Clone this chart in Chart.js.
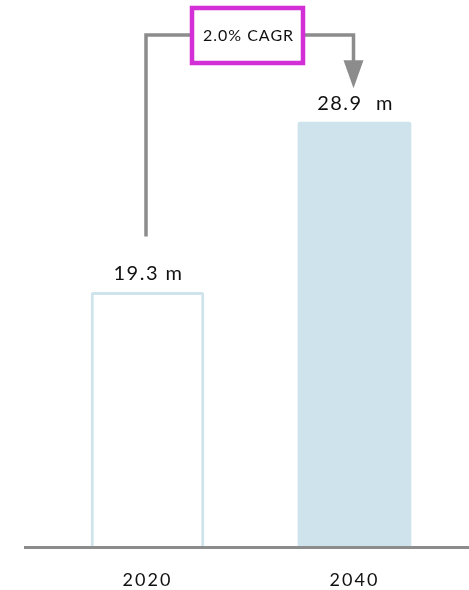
<!DOCTYPE html>
<html>
<head>
<meta charset="utf-8">
<script src="https://cdn.jsdelivr.net/npm/chart.js@4.4.1/dist/chart.umd.min.js"></script>
<style>
  html, body { margin: 0; padding: 0; background: #fff; }
  #wrap { width: 469px; height: 590px; }
</style>
</head>
<body>
<div id="wrap"><canvas id="chart" width="469" height="590"></canvas></div>
<script>
// years and values (millions)
const years = ['2020', '2040'];
const values = [19.3, 28.9];
const unitSuffix = [' m', '  m'];

const barFill = ['#ffffff', '#cfe3ec'];
const barEdge = ['#cfe3ec', '#cfe3ec'];
const edgeWidth = [3, 0];

// compound annual growth between the two years
const span = Number(years[1]) - Number(years[0]);
const cagr = (Math.pow(values[1] / values[0], 1 / span) - 1) * 100;

const FONT = 'Lato, "Open Sans", sans-serif';

// wider tracking for the year labels
const tracking = {
  id: 'tracking',
  beforeDraw(chart) { chart.ctx.letterSpacing = '2px'; },
  afterDraw(chart) { chart.ctx.letterSpacing = '0px'; }
};

// value labels, baseline line and the CAGR arrow
const annotations = {
  id: 'annotations',
  afterDatasetsDraw(chart) {
    const { ctx, chartArea, scales } = chart;
    const x = scales.x, y = scales.y;
    const base = y.getPixelForValue(y.min);

    ctx.save();
    // baseline
    ctx.strokeStyle = '#8c8c8c';
    ctx.lineWidth = 3;
    ctx.beginPath();
    ctx.moveTo(24, base + 1.5);
    ctx.lineTo(469, base + 1.5);
    ctx.stroke();

    // value labels
    ctx.letterSpacing = '1.5px';
    ctx.fillStyle = '#111';
    ctx.font = '20px ' + FONT;
    ctx.textAlign = 'center';
    ctx.textBaseline = 'alphabetic';
    values.forEach((v, i) => {
      const px = x.getPixelForValue(i);
      const py = y.getPixelForValue(v);
      ctx.fillText(v.toFixed(1) + unitSuffix[i], px + 1, py - 12);
    });

    // growth arrow
    const x0 = x.getPixelForValue(0) - 1.5;
    const x1 = x.getPixelForValue(1) - 1;
    const yStart = y.getPixelForValue(values[0]) - 56;
    const yTop = chartArea.top + 21;
    const yTip = y.getPixelForValue(values[1]) - 34;
    ctx.strokeStyle = '#8c8c8c';
    ctx.lineWidth = 3.5;
    ctx.lineJoin = 'miter';
    ctx.beginPath();
    ctx.moveTo(x0, yStart);
    ctx.lineTo(x0, yTop);
    ctx.lineTo(x1, yTop);
    ctx.lineTo(x1, yTip - 26);
    ctx.stroke();
    ctx.fillStyle = '#8c8c8c';
    ctx.beginPath();
    ctx.moveTo(x1 - 10, yTip - 28);
    ctx.lineTo(x1 + 10, yTip - 28);
    ctx.lineTo(x1, yTip);
    ctx.closePath();
    ctx.fill();

    // CAGR box
    const bx = 192, bw = 111, bt = 8, bh = 55;
    ctx.fillStyle = '#ffffff';
    ctx.fillRect(bx, bt, bw, bh);
    ctx.strokeStyle = '#d22fd6';
    ctx.lineWidth = 4.5;
    ctx.strokeRect(bx, bt, bw, bh);
    ctx.letterSpacing = '1px';
    ctx.fillStyle = '#111';
    ctx.font = '16px ' + FONT;
    ctx.textBaseline = 'middle';
    ctx.fillText(cagr.toFixed(1) + '% CAGR', bx + bw / 2 + 1, yTop + 1);
    ctx.restore();
  }
};

new Chart(document.getElementById('chart'), {
  type: 'bar',
  data: {
    labels: years,
    datasets: [{
      data: values,
      backgroundColor: barFill,
      borderColor: barEdge,
      borderWidth: edgeWidth,
      borderSkipped: false,
      borderRadius: 2,
      barThickness: 113
    }]
  },
  options: {
    responsive: false,
    animation: false,
    layout: { padding: { top: 14, left: 44, right: 11, bottom: 0 } },
    plugins: { legend: { display: false }, tooltip: { enabled: false } },
    scales: {
      x: {
        grid: { display: false, drawTicks: false },
        border: { display: false },
        ticks: { color: '#111', font: { family: FONT, size: 18 }, padding: 23 },
        afterFit(scale) { scale.height = 44; }
      },
      y: { display: false, min: 5, max: 35 }
    }
  },
  plugins: [tracking, annotations]
});
</script>
</body>
</html>
